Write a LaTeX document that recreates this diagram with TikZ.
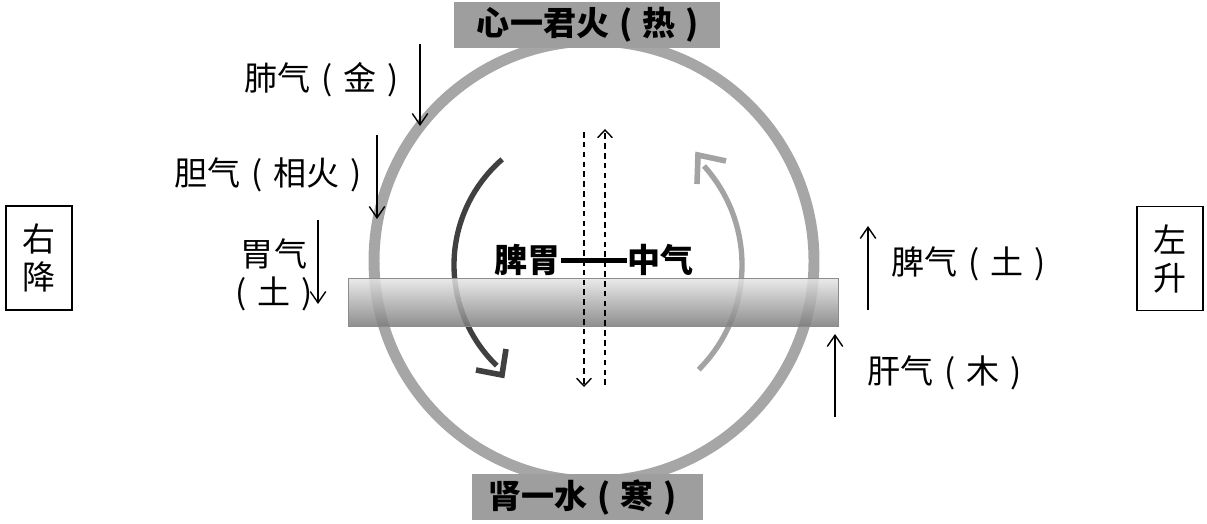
\documentclass[tikz,border=0pt]{standalone}
\usepackage{fontspec}
\setmainfont{Noto Sans CJK SC}[BoldFont={Noto Sans CJK SC Black}]
\usetikzlibrary{arrows.meta, calc}

\definecolor{ringgray}{gray}{0.65}
\definecolor{boxgray}{gray}{0.62}
\definecolor{darkarc}{gray}{0.25}
\definecolor{lightarc}{gray}{0.64}

\newcommand{\lpar}{\makebox[1em][c]{(}}
\newcommand{\rpar}{\makebox[1em][c]{)}}
\newcommand{\longdash}{\rule[7pt]{2em}{3.6pt}}

\begin{document}
\begin{tikzpicture}[
    x=0.025cm, y=0.025cm,
    lbl/.style={font=\fontsize{23.5}{27}\selectfont, inner sep=0pt},
    head/.style={fill=boxgray, minimum height=1.15cm, inner sep=0pt, font=\fontsize{23.5}{27}\selectfont\bfseries},
    side/.style={draw, line width=1pt, minimum width=1.65cm, minimum height=2.6cm, align=center, inner sep=0pt, font=\fontsize{23.5}{27}\selectfont},
    flow/.style={-{Straight Barb[length=8pt, width=11pt]}, line width=1pt},
    core/.style={-{Straight Barb[length=5.5pt, width=10.5pt]}, line width=1pt, dash pattern=on 4pt off 3pt},
    turn/.style={line width=3.8pt},
    corner/.style={line width=4pt, line cap=butt, line join=miter},
    bar/.style={draw=black!45, top color=black!10, bottom color=black!52, fill opacity=0.85, minimum width=12.25cm, minimum height=1.2cm, inner sep=0pt}
]
\useasboundingbox (0,0) rectangle (1207,-524);

\draw[ringgray, line width=7.8pt] (594,-261) circle[radius=220];

\coordinate (mid) at (594,-265);
\draw[turn, darkarc] ($(mid)+(131:140)$) arc[start angle=131, end angle=226, radius=140];
\draw[turn, lightarc] ($(mid)+(-45:148)$) arc[start angle=-45, end angle=42, radius=148];

\coordinate (downTip) at (502,-375);
\draw[corner, darkarc] (476,-370) -- (downTip) -- (506,-349);
\coordinate (upTip) at (698,-155);
\draw[corner, lightarc] (726,-161) -- (upTip) -- (697,-184);

\node[bar] (tube) at (593.5,-302.5) {};
\node[lbl, font=\fontsize{23.5}{27}\selectfont\bfseries] (qi) at (594,-260) {脾胃\longdash 中气};

\coordinate (downTop) at (584,-132);
\coordinate (downEnd) at (584,-387);
\coordinate (upBot) at (605,-385);
\coordinate (upEnd) at (605,-129);
\draw[core] (downTop) -- (downEnd);
\draw[core] (upBot) -- (upEnd);

\node[head, minimum width=6.65cm] (heart) at (587,-25) {\hspace{8pt}心一君火\lpar 热\rpar};
\node[head, minimum width=5.775cm] (kidney) at (587.5,-497) {肾一水\lpar 寒\rpar};

\node[lbl, anchor=west] (lung) at (244,-80) {肺气\lpar 金\rpar};
\coordinate (lungTop) at (420,-44);
\coordinate (lungEnd) at (420,-126);
\draw[flow] (lungTop) -- (lungEnd);

\node[lbl, anchor=west] (gall) at (174,-175) {胆气\lpar 相火\rpar};
\coordinate (gallTop) at (377,-135);
\coordinate (gallEnd) at (377,-219);
\draw[flow] (gallTop) -- (gallEnd);

\node[lbl, align=center] (stomach) at (274,-275) {胃气\\\lpar 土\rpar};
\coordinate (stomachTop) at (318,-220);
\coordinate (stomachEnd) at (318,-304);
\draw[flow] (stomachTop) -- (stomachEnd);

\node[lbl, anchor=west] (spleen) at (891,-264) {脾气\lpar 土\rpar};
\coordinate (spleenBot) at (868,-310);
\coordinate (spleenEnd) at (868,-226);
\draw[flow] (spleenBot) -- (spleenEnd);

\node[lbl, anchor=west] (liver) at (867,-373) {肝气\lpar 木\rpar};
\coordinate (liverBot) at (835,-417);
\coordinate (liverEnd) at (835,-334);
\draw[flow] (liverBot) -- (liverEnd);

\node[side] (descend) at (39,-258) {右\\降};
\node[side] (ascend) at (1170,-258.5) {左\\升};

\end{tikzpicture}
\end{document}
